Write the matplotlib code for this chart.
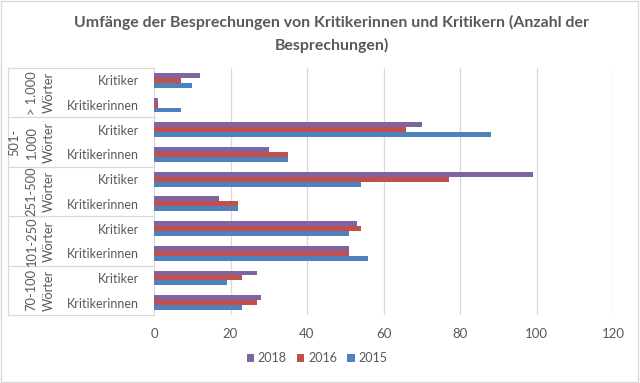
import matplotlib.pyplot as plt
import matplotlib.transforms as mtransforms
from matplotlib.patches import Rectangle
import numpy as np

plt.rcParams['font.family'] = ['Lato', 'DejaVu Sans']

# categories top to bottom as shown in the chart
groups = ["> 1.000\nWörter", "501-\n1.000\nWörter", "251-500\nWörter", "101-250\nWörter", "70-100\nWörter"]
subcats = ["Kritiker", "Kritikerinnen"]
years = ["2018", "2016", "2015"]
v2018 = [12, 1, 70, 30, 99, 17, 53, 51, 27, 28]
v2016 = [7, 1, 66, 35, 77, 22, 54, 51, 23, 27]
v2015 = [10, 7, 88, 35, 54, 22, 51, 56, 19, 23]
colors = ["#8064A2", "#C0504D", "#4F81BD"]
text_col = "#595959"

fig = plt.figure(figsize=(6.4, 3.83), dpi=100)
ax = fig.add_axes([154/640, 1-315/383, (613-154)/640, (315-68)/383])

n = len(v2018)
ypos = np.arange(n)[::-1]  # top entry at highest y
h = 0.2
for vals, col, off, lab in zip([v2018, v2016, v2015], colors, [h, 0, -h], years):
    ax.barh(ypos + off, vals, height=h, color=col, label=lab, zorder=3)

ax.set_xlim(0, 120)
ax.set_ylim(-0.5, n - 0.5)
ax.set_xticks(range(0, 121, 20))
ax.xaxis.grid(True, color="#D9D9D9", lw=0.9, zorder=0)
for s in ax.spines.values():
    s.set_visible(False)
ax.tick_params(axis="x", length=0, colors=text_col, labelsize=9.5, pad=9)
ax.set_yticks(ypos)
ax.set_yticklabels(subcats * len(groups), color=text_col, fontsize=9)
ax.tick_params(axis="y", length=0, pad=11)

# group labels and separators in the category area
tr = mtransforms.blended_transform_factory(fig.transFigure, ax.transData)
x0 = 8/640
x1 = 154/640
for i, g in enumerate(groups):
    top = n - 0.5 - 2*i
    ax.plot([x0, x1], [top, top], transform=tr, color="#D9D9D9", lw=0.9, clip_on=False)
    ax.text(55/640, top - 1, g, transform=tr, rotation=90, ha="right", va="center",
            fontsize=9.3, color=text_col, linespacing=1.55, multialignment="center")
ax.plot([x0, x1], [-0.5, -0.5], transform=tr, color="#D9D9D9", lw=0.9, clip_on=False)
ax.plot([x0, x0], [-0.5, n - 0.5], transform=tr, color="#D9D9D9", lw=0.9, clip_on=False)

fig.text(0.518, 1-22/383, "Umfänge der Besprechungen von Kritikerinnen und Kritikern (Anzahl der",
         ha="center", va="center", fontsize=11.4, fontweight="bold", color=text_col)
fig.text(0.518, 1-45/383, "Besprechungen)",
         ha="center", va="center", fontsize=11.4, fontweight="bold", color=text_col)

leg = fig.legend(loc="center", bbox_to_anchor=(317/640, 1-358/383), ncol=3, frameon=False,
                 fontsize=9, handlelength=0.6, handleheight=0.6, handletextpad=0.3,
                 columnspacing=0.8)
for t in leg.get_texts():
    t.set_color(text_col)

fig.patches.append(Rectangle((0.002, 0.003), 0.995, 0.994, transform=fig.transFigure,
                             fill=False, edgecolor="#D9D9D9", lw=1))

fig.savefig("out.png", dpi=100)
